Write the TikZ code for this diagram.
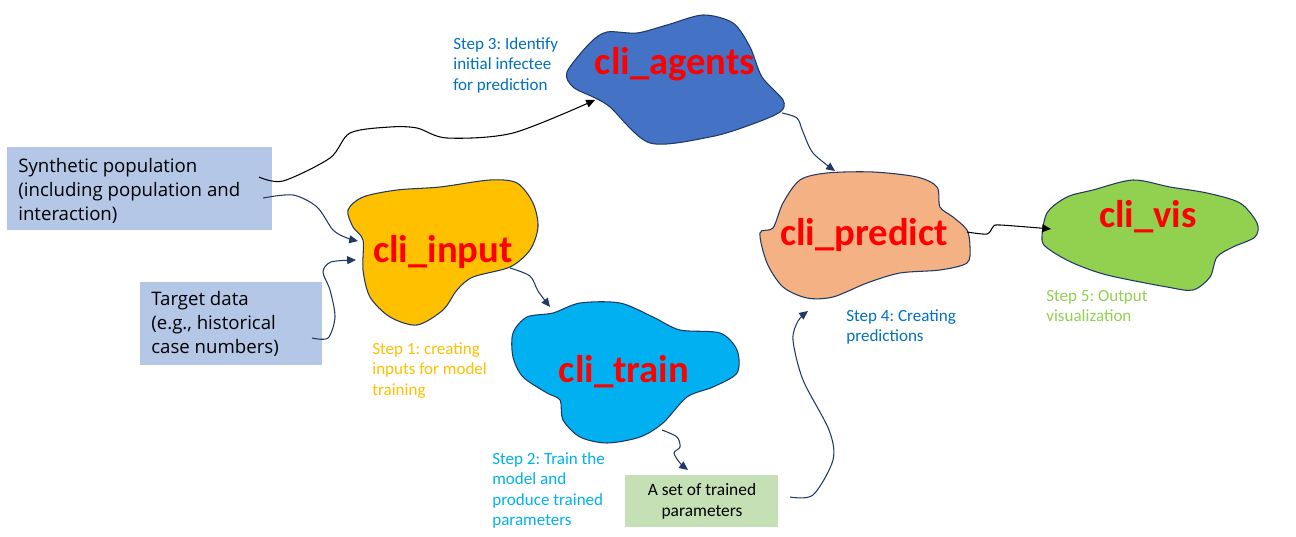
\documentclass[tikz,border=0pt]{standalone}
\usepackage{fontspec}
\setmainfont{Carlito}
\newfontfamily\boxfont{Open Sans}
\usetikzlibrary{arrows.meta}
\definecolor{agentsC}{HTML}{4472C4}
\definecolor{inputC}{HTML}{FFC000}
\definecolor{trainC}{HTML}{00B0F0}
\definecolor{predictC}{HTML}{F4B183}
\definecolor{visC}{HTML}{92D050}
\definecolor{boxblue}{HTML}{B4C7E7}
\definecolor{boxgreen}{HTML}{C5E0B4}
\definecolor{navy}{HTML}{203864}
\definecolor{stepblue}{HTML}{0070C0}
\frenchspacing
\begin{document}
\begin{tikzpicture}[x=0.02cm,y=-0.02cm,
 blob/.style={draw=navy, line width=0.6pt},
 bloblabel/.style={text=red, font=\fontsize{22}{24}\selectfont\bfseries, inner sep=0pt, anchor=base},
 steptext/.style={font=\fontsize{9.7}{11.7}\selectfont, align=left, anchor=north west, inner sep=0pt},
 inbox/.style={font=\boxfont\fontsize{10.6}{13.6}\selectfont, align=left, anchor=north west, inner sep=0pt},
 conn/.style={draw=navy, line width=0.6pt, -{Triangle[length=5pt,width=4.5pt]}},
 connk/.style={conn, draw=black},
]
\useasboundingbox (0,0) rectangle (1296,537);

% boxes
\node[fill=boxblue, minimum width=265*0.02cm, minimum height=83*0.02cm, inner sep=0pt] (synbox) at (139.5,188.5) {};
\node[fill=boxblue, minimum width=182*0.02cm, minimum height=83*0.02cm, inner sep=0pt] (tgtbox) at (231,323.5) {};
\node[fill=boxgreen, minimum width=153*0.02cm, minimum height=52*0.02cm, inner sep=0pt] (parbox) at (701.5,501) {};
\node[inbox] (syntext) at (18,158) {Synthetic population\\(including population and\\interaction)};
\node[inbox] (tgttext) at (151,291) {Target data\\(e.g., historical\\case numbers)};
\node[font=\fontsize{9.9}{11.9}\selectfont, align=center, inner sep=0pt] (partext) at (702,501) {A set of trained\\parameters};

% blobs
\draw[blob, fill=agentsC] plot[smooth cycle, tension=0.5] coordinates {(567,72) (590,43) (607,32) (637,33) (667,25) (703,15) (733,23) (750,47) (762,77) (783,100) (780,112) (750,125) (710,137) (650,143) (610,107) (593,97) (573,87)};
\draw[blob, fill=inputC] plot[smooth cycle, tension=0.5] coordinates {(348,210) (363,197) (397,190) (440,187) (490,180) (517,183) (533,203) (538,227) (530,250) (510,267) (473,277) (457,290) (443,310) (417,325) (390,317) (370,297) (363,270) (363,240) (353,227)};
\draw[blob, fill=trainC] plot[smooth cycle, tension=0.5] coordinates {(513,333) (527,317) (553,313) (580,303) (620,303) (653,317) (680,330) (720,333) (737,350) (737,373) (713,387) (687,397) (663,423) (640,437) (607,443) (580,437) (563,420) (560,400) (547,393) (523,377) (513,357)};
\draw[blob, fill=predictC] plot[smooth cycle, tension=0.5] coordinates {(760,233) (773,228) (783,203) (800,180) (827,173) (873,172) (917,177) (937,187) (940,207) (953,217) (967,230) (970,247) (967,263) (940,270) (900,273) (867,283) (833,297) (807,298) (783,287) (767,263)};
\draw[blob, fill=visC] plot[smooth cycle, tension=0.5] coordinates {(1042,240) (1047,213) (1067,197) (1093,190) (1133,180) (1170,187) (1207,193) (1240,203) (1257,223) (1255,237) (1233,247) (1217,257) (1210,277) (1193,290) (1167,287) (1107,275) (1073,263) (1050,250)};

\node[bloblabel] (agents) at (675,75) {cli\_agents};
\node[bloblabel] (input) at (443,262) {cli\_input};
\node[bloblabel] (train) at (624,382) {cli\_train};
\node[bloblabel] (predict) at (864,245) {cli\_predict};
\node[bloblabel] (vis) at (1148,228) {cli\_vis};

% step texts
\node[steptext, text=stepblue] (step3) at (453,37) {Step 3: Identify\\initial infectee\\for prediction};
\node[steptext, text=inputC] (step1) at (372,342) {Step 1: creating\\inputs for model\\training};
\node[steptext, text=trainC] (step2) at (492,452) {Step 2: Train the\\model and\\produce trained\\parameters};
\node[steptext, text=stepblue] (step4) at (846,309) {Step 4: Creating\\predictions};
\node[steptext, text=visC] (step5) at (1046,290) {Step 5: Output\\visualization};

% connector end points
\coordinate (synA) at (259,177);
\coordinate (synB) at (263,198);
\coordinate (tgtA) at (312,338);
\coordinate (agentsIn) at (595,100);
\coordinate (inputInA) at (358,241);
\coordinate (inputInB) at (356,260);
\coordinate (inputOut) at (510,268);
\coordinate (trainIn) at (550,307);
\coordinate (trainOut) at (662,430);
\coordinate (parIn) at (688,470);
\coordinate (parOut) at (790,497);
\coordinate (predictInA) at (808,311);
\coordinate (agentsOut) at (782,113);
\coordinate (predictInB) at (835,171);
\coordinate (predictOut) at (967,232);
\coordinate (visIn) at (1051,229);

% connectors
\draw[connk] plot[smooth, tension=0.5] coordinates {(synA) (283,181) (330,158) (350,133) (390,127) (417,128) (447,138) (513,133) (agentsIn)};
\draw[conn] plot[smooth, tension=0.5] coordinates {(synB) (293,195) (317,207) (333,230) (347,238) (inputInA)};
\draw[conn] plot[smooth, tension=0.5] coordinates {(tgtA) (328,338) (335,317) (330,290) (323,272) (331,262) (inputInB)};
\draw[conn] plot[smooth, tension=0.5] coordinates {(inputOut) (530,276) (538,291) (trainIn)};
\draw[conn] plot[smooth, tension=0.5] coordinates {(trainOut) (677,437) (680,447) (674,453) (680,463) (parIn)};
\draw[conn] plot[smooth, tension=0.5] coordinates {(parOut) (813,495) (833,460) (829,430) (803,380) (793,340) (798,321) (predictInA)};
\draw[conn] plot[smooth, tension=0.5] coordinates {(agentsOut) (797,118) (803,132) (813,153) (predictInB)};
\draw[connk] plot[smooth, tension=0.5] coordinates {(predictOut) (987,234) (993,227) (1000,225) (visIn)};
\end{tikzpicture}
\end{document}
